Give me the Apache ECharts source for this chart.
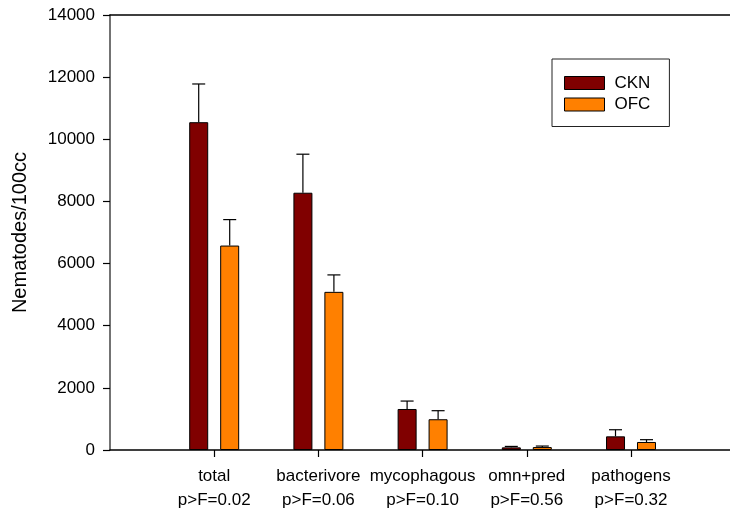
<!DOCTYPE html>
<html>
<head>
<meta charset="utf-8">
<script src="https://cdn.jsdelivr.net/npm/echarts@6/dist/echarts.min.js"></script>
<style>
html,body{margin:0;padding:0;background:#fff;}
#chart{width:730px;height:510px;}
</style>
</head>
<body>
<div id="chart"></div>
<script>
var categories = ['total', 'bacterivore', 'mycophagous', 'omn+pred', 'pathogens'];
var pLabels = ['p>F=0.02', 'p>F=0.06', 'p>F=0.10', 'p>F=0.56', 'p>F=0.32'];
var cknMean = [10550, 8280, 1320, 85, 440];
var cknSE   = [1230, 1240, 255, 30, 212];
var ofcMean = [6580, 5090, 990, 95, 258];
var ofcSE   = [835, 545, 275, 32, 74];
var yTicks = [0, 2000, 4000, 6000, 8000, 10000, 12000, 14000];

var FONT = 'Liberation Sans, Arial, sans-serif';
var positions = categories.map(function (c, i) { return i + 1; });

function toPairs(arr) { return arr.map(function (v, i) { return [positions[i], v]; }); }
function toTriples(m, s) { return m.map(function (v, i) { return [positions[i], v, s[i]]; }); }

function errRender(offsetPx) {
  return function (params, api) {
    var x = api.value(0), m = api.value(1), s = api.value(2);
    var b = api.coord([x, m]);
    var t = api.coord([x, m + s]);
    var cx = b[0] + offsetPx;
    return {
      type: 'group',
      children: [
        { type: 'line', shape: { x1: cx, y1: b[1], x2: cx, y2: t[1] }, style: { stroke: '#000', lineWidth: 1.2 } },
        { type: 'line', shape: { x1: cx - 6.5, y1: t[1], x2: cx + 6.5, y2: t[1] }, style: { stroke: '#000', lineWidth: 1.2 } }
      ]
    };
  };
}

var chart = echarts.init(document.getElementById('chart'), null, { renderer: 'canvas' });
chart.setOption({
  animation: false,
  backgroundColor: '#fff',
  textStyle: { fontFamily: FONT },
  grid: { left: 110, right: 0, top: 15, bottom: 60 },
  legend: {
    data: ['CKN', 'OFC'],
    orient: 'vertical',
    left: 552, top: 59,
    padding: [15.5, 19, 13.5, 12],
    itemWidth: 40, itemHeight: 13, itemGap: 4.5,
    icon: 'rect',
    borderColor: '#222', borderWidth: 1,
    itemStyle: { borderColor: '#000', borderWidth: 1 },
    textStyle: { fontSize: 17, color: '#000', fontFamily: FONT, padding: [0, 0, 0, 5] }
  },
  xAxis: [{
    type: 'value', min: 0, max: 5.95, interval: 1,
    position: 'bottom',
    splitLine: { show: false },
    axisLine: { show: true, onZero: false, lineStyle: { color: '#000', width: 1.5 } },
    axisTick: { show: true, customValues: positions, length: 7, lineStyle: { color: '#000', width: 1.2 } },
    axisLabel: {
      customValues: positions,
      margin: 14,
      formatter: function (v) {
        var i = Math.round(v) - 1;
        if (i < 0 || i >= categories.length) return '';
        return '{a|' + categories[i] + '}\n{a|' + pLabels[i] + '}';
      },
      rich: { a: { fontSize: 17, lineHeight: 24, color: '#000', fontFamily: FONT, align: 'center' } }
    }
  }, {
    type: 'value', min: 0, max: 5.95, position: 'top',
    splitLine: { show: false },
    axisLine: { show: true, onZero: false, lineStyle: { color: '#000', width: 1.5 } },
    axisTick: { show: false }, axisLabel: { show: false }
  }],
  yAxis: {
    type: 'value', min: yTicks[0], max: yTicks[yTicks.length - 1], interval: yTicks[1] - yTicks[0],
    name: 'Nematodes/100cc', nameLocation: 'middle', nameGap: 80,
    nameTextStyle: { fontSize: 20, color: '#000', fontFamily: FONT },
    splitLine: { show: false },
    axisLine: { show: true, lineStyle: { color: '#444', width: 1.5 } },
    axisTick: { show: true, length: 7, lineStyle: { color: '#000', width: 1.2 } },
    axisLabel: { fontSize: 17, color: '#000', margin: 15, fontFamily: FONT,
      formatter: function (v) { return String(v); } }
  },
  series: [
    { name: 'CKN', type: 'bar', data: toPairs(cknMean), barWidth: 19, barGap: '63%',
      itemStyle: { color: '#800000', borderColor: '#000', borderWidth: 1 } },
    { name: 'OFC', type: 'bar', data: toPairs(ofcMean), barWidth: 19, barGap: '63%',
      itemStyle: { color: '#FF8000', borderColor: '#000', borderWidth: 1 } },
    { name: 'CKN err', type: 'custom', data: toTriples(cknMean, cknSE), renderItem: errRender(-15.5), z: 5, silent: true },
    { name: 'OFC err', type: 'custom', data: toTriples(ofcMean, ofcSE), renderItem: errRender(15.5), z: 5, silent: true }
  ]
});
</script>
</body>
</html>
